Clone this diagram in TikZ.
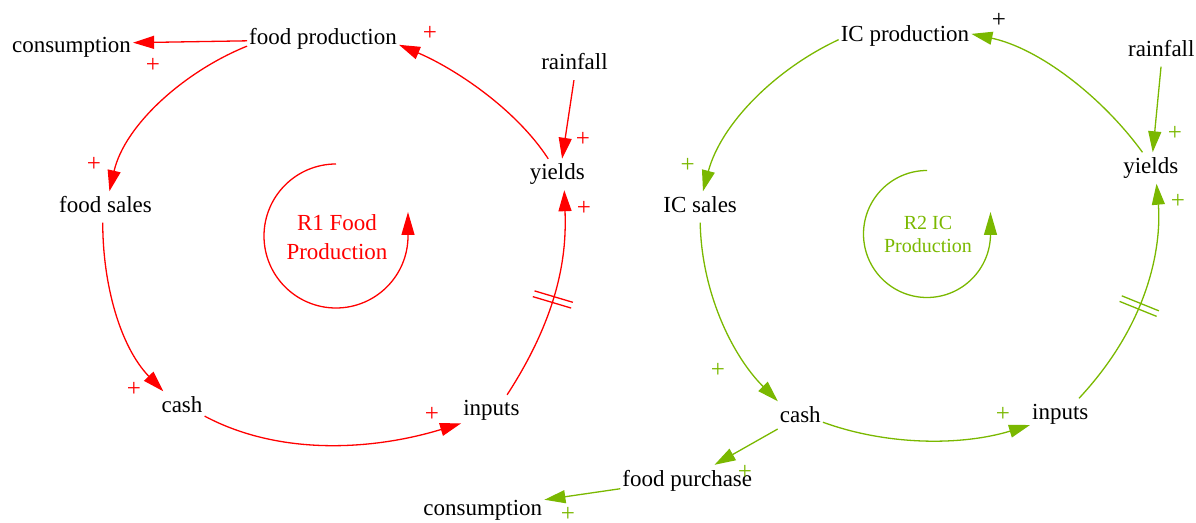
\documentclass[tikz,border=0pt]{standalone}
\usepackage{fontspec}
\setmainfont{Liberation Serif}
\usetikzlibrary{arrows.meta,decorations.markings}
\definecolor{loopred}{RGB}{255,0,0}
\definecolor{loopgreen}{RGB}{122,184,0}

\begin{document}
\begin{tikzpicture}[x=1pt,y=1pt,
  var/.style={inner xsep=2pt, inner ysep=5pt, text height=16pt, text depth=5pt,
              font=\fontsize{23}{27}\selectfont},
  pol/.style={inner sep=0pt, font=\fontsize{25}{29}\selectfont},
  link/.style={line width=1.3pt, -{Triangle[length=21pt,width=13pt]}},
  loopsym/.style={line width=1.3pt, -{Triangle[length=23pt,width=13pt]}},
  delaymark/.style 2 args={postaction={decorate},
     decoration={markings, mark=at position #1 with
       {\draw[#2, line width=1.3pt, arrows=-] (-3,-20) -- (-3,20) (3,-20) -- (3,20);}}}
]
\useasboundingbox (0,0) rectangle (1196,522);

% ---- food production loop (R1) ----
\node[var] (consL) at (71.5,475)   {consumption};
\node[var] (fp)    at (323,482.5)  {food production};
\node[var] (fsL)   at (105.5,315)  {food sales};
\node[var] (cashL) at (182,115)    {cash};
\node[var] (inL)   at (491.4,111.5){inputs};
\node[var] (yL)    at (557.3,347.5){yields};
\node[var] (rainL) at (574.5,457.5){rainfall};

\draw[link, loopred] (fp.181) -- (consL.4);
\draw[link, loopred] (fp.185) .. controls +(202:68) and +(77:68) .. (fsL.76);
\draw[link, loopred] (fsL.260) .. controls +(270:62) and +(134:62) .. (cashL.140);
\draw[link, loopred] (cashL.338) .. controls +(332:88) and +(197:88) .. (inL.203);
\draw[link, loopred, delaymark={0.49}{loopred}] (inL.45) .. controls +(57:105) and +(272:55) .. (yL.294);
\draw[link, loopred] (rainL.268) -- (yL.73);
\draw[link, loopred] (yL.120) .. controls +(123:60) and +(337:60) .. (fp.356);

\node[pol, loopred] (pl1) at (153,457) {+};
\node[pol, loopred] (pl2) at (430,489) {+};
\node[pol, loopred] (pl3) at (94,358)  {+};
\node[pol, loopred] (pl4) at (134,133) {+};
\node[pol, loopred] (pl5) at (432,108) {+};
\node[pol, loopred] (pl6) at (583,383) {+};
\node[pol, loopred] (pl7) at (584,314) {+};

\draw[loopsym, loopred] (336,358) arc[start angle=90, end angle=360, radius=72] -- ++(0,24);
\node[align=center, text=loopred, font=\fontsize{23}{29}\selectfont] (r1) at (337,284.5)
  {R1 Food\\Production};

% ---- IC production loop (R2) ----
\node[var] (icp)   at (905,485.8)   {IC production};
\node[var] (ics)   at (700.2,315)   {IC sales};
\node[var] (cashR) at (800.3,105)   {cash};
\node[var] (inR)   at (1060.3,108)  {inputs};
\node[var] (yR)    at (1150.8,354)  {yields};
\node[var] (rainR) at (1161.3,471)  {rainfall};
\node[var] (fpur)  at (687.3,41.5)  {food purchase};
\node[var] (consR) at (482.8,12.5)  {consumption};

\draw[link, loopgreen] (yR.118) .. controls +(126:69) and +(348:69) .. (icp.2);
\draw[link, loopgreen] (icp.183) .. controls +(205:70) and +(75:70) .. (ics.80);
\draw[link, loopgreen] (ics.270) .. controls +(271:67) and +(135:67) .. (cashR.145);
\draw[link, loopgreen] (cashR.347) .. controls +(340:70) and +(197:70) .. (inR.200);
\draw[link, loopgreen, delaymark={0.47}{loopgreen}] (inR.40) .. controls +(47:118) and +(275:45) .. (yR.290);
\draw[link, loopgreen] (rainR.269) -- (yR.83);
\draw[link, loopgreen] (cashR.208) -- (fpur.30);
\draw[link, loopgreen] (fpur.187) -- (consR.9);

\node[pol, black]     (pr1) at (999,502)   {+};
\node[pol, loopgreen] (pr2) at (687.7,357) {+};
\node[pol, loopgreen] (pr3) at (718,152)   {+};
\node[pol, loopgreen] (pr4) at (1003,108)  {+};
\node[pol, loopgreen] (pr5) at (1175,389)  {+};
\node[pol, loopgreen] (pr6) at (1178,321)  {+};
\node[pol, loopgreen] (pr7) at (745,49.3)  {+};
\node[pol, loopgreen] (pr8) at (568,7.5)   {+};

\draw[loopsym, loopgreen] (927,351.5) arc[start angle=90, end angle=360, radius=63.5] -- ++(0,22);
\node[align=center, text=loopgreen, font=\fontsize{20}{22.3}\selectfont] (r2) at (928,287.6)
  {R2 IC\\Production};
\end{tikzpicture}
\end{document}
